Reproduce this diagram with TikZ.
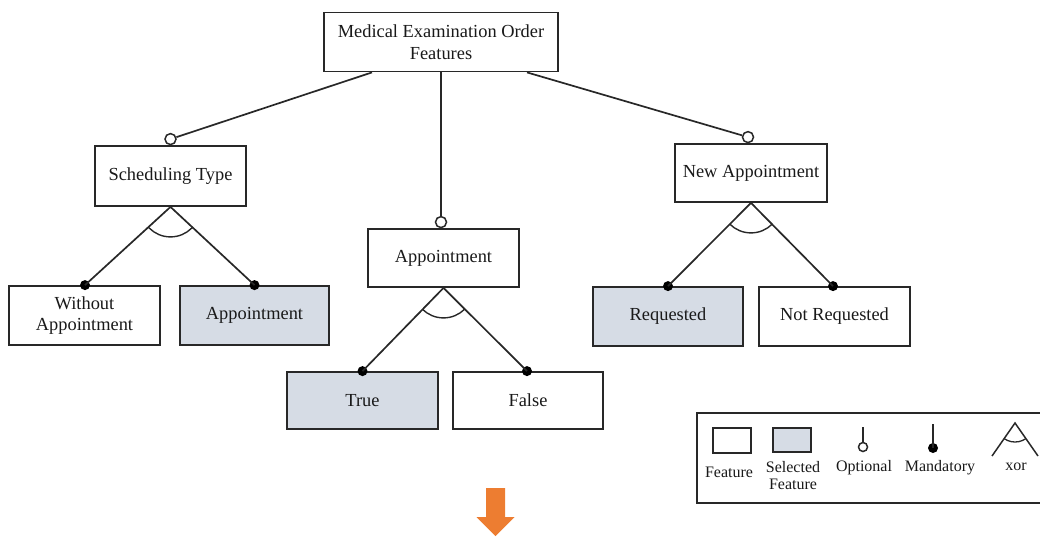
\documentclass[tikz,border=0pt]{standalone}
\usepackage{fontspec}
\setmainfont{Liberation Serif}
\usetikzlibrary{calc}
\definecolor{selfill}{RGB}{214,220,229}
\definecolor{lnc}{RGB}{40,40,40}
\definecolor{arrowor}{RGB}{237,125,49}
\tikzset{
  feat/.style={draw=lnc, line width=1.8pt, fill=white, rectangle, inner sep=0pt, align=center,
    font=\fontsize{18.4}{21.5}\selectfont, text=black!90},
  selfeat/.style={feat, fill=selfill},
  conn/.style={draw=lnc, line width=1.7pt},
  optc/.style={circle, draw=lnc, line width=1.5pt, fill=white, inner sep=0pt, minimum size=11pt},
  mandc/.style={circle, fill=black, inner sep=0pt, minimum size=10pt},
  legtext/.style={font=\fontsize{16}{17}\selectfont, align=center, text=black!90},
}
\begin{document}
\begin{tikzpicture}[x=1pt, y=-1pt]
\useasboundingbox (0,0) rectangle (1040,536);
\clip (0,0) rectangle (1040,536);
% feature boxes
\node[feat, minimum width=234pt, minimum height=59pt] (root) at (441,42) {Medical Examination Order\\Features};
\node[feat, minimum width=151pt, minimum height=60pt] (sched) at (170.5,176) {Scheduling Type};
\node[feat, minimum width=151pt, minimum height=58pt] (appt) at (443.5,258) {Appointment};
\node[feat, minimum width=152pt, minimum height=58pt] (newapp) at (751,173) {New Appointment};
\node[feat, minimum width=151pt, minimum height=59pt] (without) at (84.5,315.5) {Without\\Appointment};
\node[selfeat, minimum width=149pt, minimum height=59pt] (apptsel) at (254.5,315.5) {Appointment};
\node[selfeat, minimum width=151pt, minimum height=57pt] (true) at (362.5,400.5) {True};
\node[feat, minimum width=150pt, minimum height=57pt] (false) at (528,400.5) {False};
\node[selfeat, minimum width=150pt, minimum height=59pt] (req) at (668,316.5) {Requested};
\node[feat, minimum width=151pt, minimum height=59pt] (notreq) at (834.5,316.5) {Not Requested};

% optional connectors from root
\coordinate (r1) at ($(root.south)+(-69,0)$);
\coordinate (r3) at ($(root.south)+(86,0)$);
\node[optc] (o1) at ($(sched.north)+(0,-6)$) {};
\node[optc] (o2) at ($(appt.north)+(-2.5,-6)$) {};
\node[optc] (o3) at ($(newapp.north)+(-3,-6)$) {};
\draw[conn] (r1) -- (o1);
\draw[conn] (root.south) -- (o2);
\draw[conn] (r3) -- (o3);

% mandatory dots
\node[mandc] (m1) at ($(without.north)+(0.5,0)$) {};
\node[mandc] (m2) at (apptsel.north) {};
\node[mandc] (m3) at (true.north) {};
\node[mandc] (m4) at ($(false.north)+(-1,0)$) {};
\node[mandc] (m5) at (req.north) {};
\node[mandc] (m6) at ($(notreq.north)+(-1.5,0)$) {};

% xor groups
\foreach \p/\a/\b in {sched/m1/m2, appt/m3/m4, newapp/m5/m6}{
  \draw[conn] (\p.south) -- (\a.center);
  \draw[conn] (\p.south) -- (\b.center);
  \begin{scope}
    \clip (\p.south) -- (\a.center) -- (\b.center) -- cycle;
    \draw[draw=lnc, line width=1.4pt] (\p.south) circle (30pt);
  \end{scope}
}

% legend
\draw[draw=lnc, line width=1.8pt] (697,413) rectangle (1060,503);
\node[feat, minimum width=38pt, minimum height=25pt] (lf) at (732,440.5) {};
\node[selfeat, minimum width=38pt, minimum height=24pt] (ls) at (792,440) {};
\node[legtext] (lft) at (729,472) {Feature};
\node[legtext] (lst) at (793,476) {Selected\\Feature};
\coordinate (lo) at (863,427);
\node[optc, minimum size=9pt] (loc) at (863,447) {};
\draw[draw=lnc, line width=1.5pt] (lo) -- (loc);
\node[legtext] (lot) at (864,468) {Optional};
\coordinate (lm) at (933,424);
\node[mandc, minimum size=10pt] (lmc) at (933,448) {};
\draw[draw=lnc, line width=1.5pt] (lm) -- (lmc.center);
\node[legtext] (lmt) at (940,468) {Mandatory};
\coordinate (lx) at (1015,423);
\coordinate (lxa) at (992,456);
\coordinate (lxb) at (1038,456);
\draw[draw=lnc, line width=1.5pt] (lxa) -- (lx) -- (lxb);
\begin{scope}
  \clip (lx) -- (lxa) -- (lxb) -- cycle;
  \draw[draw=lnc, line width=1.3pt] (lx) circle (19pt);
\end{scope}
\node[legtext] (lxt) at (1016,467) {xor};

% orange arrow
\fill[arrowor] (486,488) -- (505,488) -- (505,517) -- (514.5,517) -- (495.5,536) -- (476.5,517) -- (486,517) -- cycle;
\end{tikzpicture}
\end{document}
